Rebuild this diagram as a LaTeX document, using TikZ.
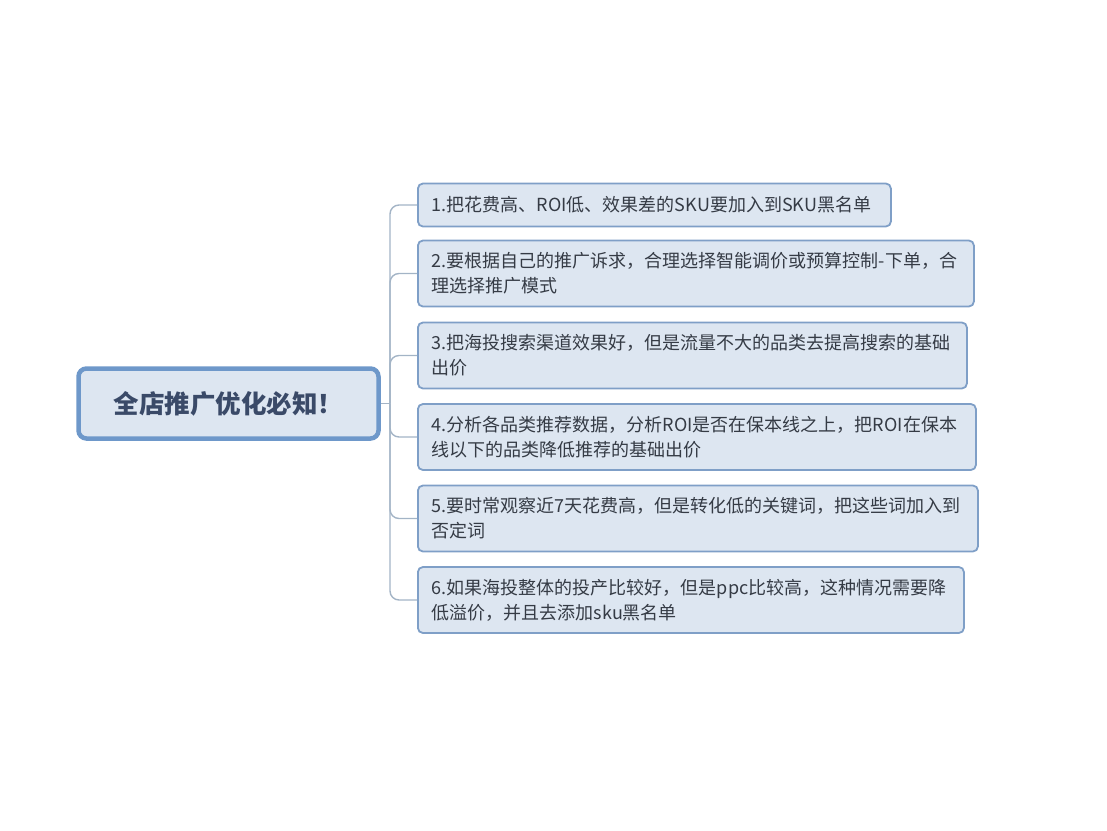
\documentclass[tikz,border=0pt]{standalone}
\usepackage{fontspec}
\setmainfont{Noto Sans CJK SC}
\usetikzlibrary{positioning}
\definecolor{rootline}{HTML}{6E98CA}
\definecolor{boxline}{HTML}{7F9FC7}
\definecolor{boxfill}{HTML}{DDE6F1}
\definecolor{linkline}{HTML}{A3B4C6}
\definecolor{roottext}{HTML}{3A4A68}
\definecolor{tiptext}{HTML}{353B45}
\begin{document}
\begin{tikzpicture}[x=1pt,y=-1pt]
        \tikzset{
          rootbox/.style={draw=rootline,line width=4.5pt,fill=boxfill,rounded corners=8pt,
            minimum width=300pt,minimum height=70pt,text=roottext,
            font=\fontsize{25.5}{28}\selectfont\bfseries},
          tipbox/.style={draw=boxline,line width=1.8pt,fill=boxfill,rounded corners=5pt,
            anchor=west,inner xsep=14pt,inner ysep=0pt,align=left,text=tiptext,
            font=\fontsize{18}{25}\selectfont},
          link/.style={draw=linkline,line width=1.4pt,rounded corners=9pt},
        }
        \useasboundingbox (0,0) rectangle (1107,830);
        %ROOT
        \node[rootbox] (root) at (228.5,403.5) {全店推广优化必知！};
        \coordinate (hub) at (390,403.5);
        \draw[link] (root.east) -- (hub);

        \foreach \y/\w/\h/\txt [count=\i] in {
            205/473/43/{1.把花费高、ROI低、效果差的SKU要加入到SKU黑名单},
            273.5/556/66/{2.要根据自己的推广诉求，合理选择智能调价或预算控制-下单，合\\理选择推广模式},
            355.5/549/66/{3.把海投搜索渠道效果好，但是流量不大的品类去提高搜索的基础\\出价},
            437/558/66/{4.分析各品类推荐数据，分析ROI是否在保本线之上，把ROI在保本\\线以下的品类降低推荐的基础出价},
            518.5/560/66/{5.要时常观察近7天花费高，但是转化低的关键词，把这些词加入到\\否定词},
            600/546/66/{6.如果海投整体的投产比较好，但是ppc比较高，这种情况需要降\\低溢价，并且去添加sku黑名单}}{
            \node[tipbox,text width=\w-28,minimum height=\h] (t\i) at (417,\y) {\txt};
            \draw[link] (hub) |- (t\i.west);
        }
    \end{tikzpicture}
\end{document}
